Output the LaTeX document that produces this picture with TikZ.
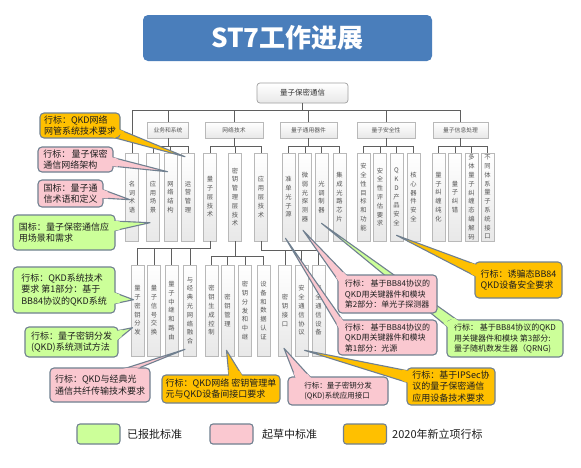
\documentclass[tikz,border=0pt]{standalone}
\usepackage{fontspec}
\setmainfont{Noto Sans CJK SC}
\usetikzlibrary{calc}
\definecolor{ttlblue}{RGB}{74,126,187}
\definecolor{cgreen}{RGB}{204,255,153}
\definecolor{cpink}{RGB}{250,200,208}
\definecolor{corange}{RGB}{255,192,0}
\definecolor{cborder}{RGB}{112,128,144}
\definecolor{vborder}{RGB}{185,185,185}
\definecolor{rborder}{RGB}{160,160,160}
\definecolor{vfill}{RGB}{232,232,232}
\definecolor{vtext}{RGB}{85,85,85}
\definecolor{tline}{RGB}{95,95,95}
\definecolor{ctext}{RGB}{30,30,30}

\def\vsEnd{}
\def\vsloop#1{\ifx#1\vsEnd\else\hbox to 7pt{\hss#1\hss}\expandafter\vsloop\fi}
\newcommand\vstack[1]{\vbox{\baselineskip=8.8pt\lineskiplimit=-20pt\lineskip=0pt\vsloop#1\vsEnd}}

\tikzset{
 vnode/.style={draw=vborder, line width=0.6pt, top color=white, bottom color=vfill, minimum width=13pt, inner sep=0pt, font=\fontsize{6.3}{8}\selectfont, text=vtext},
 catnode/.style={draw=vborder, line width=0.6pt, top color=white, bottom color=vfill, minimum height=16pt, inner sep=0pt, font=\fontsize{5.8}{7}\selectfont, text=vtext},
 rootnode/.style={draw=rborder, line width=0.7pt, rounded corners=3pt, top color=white, bottom color=vfill, minimum width=91pt, minimum height=20pt, inner sep=0pt, font=\fontsize{7.5}{9}\selectfont, text={rgb,255:red,50;green,50;blue,50}},
 tl/.style={draw=tline, line width=0.8pt},
 callbox/.style={rounded corners=4pt, draw=cborder, line width=1.1pt, inner sep=0pt, align=left, font=\fontsize{9}{11.5}\selectfont, text=ctext},
 smallcall/.style={font=\fontsize{8}{10.5}\selectfont},
 legbox/.style={rounded corners=3pt, draw=cborder, line width=1.1pt, minimum width=43pt, minimum height=20pt},
 legtext/.style={anchor=west, font=\fontsize{11}{13}\selectfont, text=ctext, inner sep=0pt},
}
\newcommand\rowA[3]{\node[vnode,minimum height=88pt] (#1) at (#2,197) {\vstack{#3}};}
\newcommand\rowB[3]{\node[vnode,minimum height=91pt] (#1) at (#2,310.5) {\vstack{#3}};}
\newcommand\tailback[4]{\filldraw[fill=#1,draw=cborder,line width=1.1pt,line join=round] (#2) -- (#4) -- (#3) -- cycle;}
\newcommand\tailfront[4]{\fill[#1] (#2) -- ($(#2)!7pt!(#4)$) -- ($(#3)!7pt!(#4)$) -- (#3) -- cycle;}

\begin{document}
\begin{tikzpicture}[x=1pt,y=-1pt]
\fill[white] (0,0) rectangle (581,467);
\useasboundingbox (0,0) rectangle (581,467);

% title
\node[fill=ttlblue, rounded corners=5pt, minimum width=289pt, minimum height=46pt, inner sep=0pt, text=white, font=\bfseries\fontsize{26}{30}\selectfont] (title) at (287.5,38) {ST7工作进展};

% tree
\node[rootnode] (root) at (302.5,93) {量子保密通信};
\node[catnode, minimum width=41pt] (k1) at (168,130) {业务和系统};
\node[catnode, minimum width=58pt] (k2) at (234,130) {网络技术};
\node[catnode, minimum width=57pt] (k3) at (308.5,130) {量子通用器件};
\node[catnode, minimum width=58pt] (k4) at (386,130) {量子安全性};
\node[catnode, minimum width=55pt] (k5) at (460.5,130) {量子信息处理};

\rowA{n11}{132}{名词术语}
\rowA{n12}{153}{应用场景}
\rowA{n13}{170.5}{网络结构}
\rowA{n14}{188}{运营管理}
\rowA{n21}{210}{量子层技术}
\rowA{n22}{235}{密钥管理层技术}
\rowA{n23}{261}{应用层技术}
\rowA{n31}{288.5}{准单光子源}
\rowA{n32}{305}{微弱光探测器}
\rowA{n33}{321.5}{光调制器}
\rowA{n34}{339.5}{集成光路芯片}
\rowA{n41}{363.5}{安全性目标和功能}
\rowA{n42}{380}{安全性评估要求}
\rowA{n43}{396.5}{QKD产品安全}
\rowA{n44}{413.5}{核心器件安全}
\rowA{n51}{438.5}{量子纠缠纯化}
\rowA{n52}{455}{量子纠错}
\rowA{n53}{471.5}{多体量子纠缠态编解码}
\rowA{n54}{487.5}{不同体系量子系统接口}

\rowB{m1}{137.5}{量子密钥分发}
\rowB{m2}{154}{量子信号交换}
\rowB{m3}{171.5}{量子中继和路由}
\rowB{m4}{190}{与经典光网络融合}
\rowB{m5}{211.5}{密钥生成控制}
\rowB{m6}{227.5}{密钥管理}
\rowB{m7}{245}{密钥分发和中继}
\rowB{m8}{263.5}{设备和数据认证}
\rowB{m9}{285}{密钥接口}
\rowB{m10}{301.5}{安全通信协议}
\rowB{m11}{318.5}{安全通信设备}

\coordinate (busA) at (0,110);
\coordinate (busB) at (0,146);
\draw[tl] (root.south) -- (root.south |- busA);
\draw[tl] (n11.north) -- (n11.north |- busA) -| (k5.north);
\foreach \k in {k1,k2,k3,k4} \draw[tl] (\k.north) -- (\k.north |- busA);
\foreach \k in {k1,k2,k3,k4,k5} \draw[tl] (\k.south) -- (\k.south |- busB);
\draw[tl] (n12.north) -- (n12.north |- busB) -| (n14.north);
\draw[tl] (n13.north) -- (n13.north |- busB);
\draw[tl] (n21.north) -- (n21.north |- busB) -| (n23.north);
\draw[tl] (n22.north) -- (n22.north |- busB);
\draw[tl] (n31.north) -- (n31.north |- busB) -| (n34.north);
\foreach \n in {n32,n33} \draw[tl] (\n.north) -- (\n.north |- busB);
\draw[tl] (n41.north) -- (n41.north |- busB) -| (n44.north);
\foreach \n in {n42,n43} \draw[tl] (\n.north) -- (\n.north |- busB);
\draw[tl] (n51.north) -- (n51.north |- busB) -| (n54.north);
\foreach \n in {n52,n53} \draw[tl] (\n.north) -- (\n.north |- busB);

\coordinate (busC) at (0,248);
\coordinate (busD) at (0,256);
\coordinate (busE) at (0,250);
\draw[tl] (n21.south) -- (n21.south |- busC) -| (m1.north);
\foreach \m in {m2,m3,m4} \draw[tl] (\m.north) -- (\m.north |- busC);
\draw[tl] (n22.south) -- (n22.south |- busD);
\draw[tl] (m5.north) -- (m5.north |- busD) -| (m8.north);
\foreach \m in {m6,m7} \draw[tl] (\m.north) -- (\m.north |- busD);
\draw[tl] (n23.south) -- (n23.south |- busE) -| (m11.north);
\foreach \m in {m9,m10} \draw[tl] (\m.north) -- (\m.north |- busE);

% tail tips
\coordinate (p1) at ($(n14.north)+(-3,4)$);
\coordinate (p2) at ($(n13.north)+(-3,19)$);
\coordinate (p3) at ($(n11.north)+(-2,47)$);
\coordinate (p4) at ($(n12.north)+(-3,70)$);
\coordinate (p5) at ($(m1.north)+(-4,35)$);
\coordinate (p6) at ($(m1.north)+(-5,63)$);
\coordinate (p7) at ($(m4.south)+(-5,-7)$);
\coordinate (p8) at ($(m6.south)+(-1,-6)$);
\coordinate (p9) at ($(m9.south)+(-1,-8)$);
\coordinate (p10) at ($(m10.south)+(3,-6)$);
\coordinate (p11) at ($(n32.south)+(-2,-11)$);
\coordinate (p12) at ($(n31.south)+(-3,-3)$);
\coordinate (p13) at ($(n33.south)+(0,-18)$);
\coordinate (p14) at ($(n43.south)+(0,-6)$);

% tails (back)
\tailback{corange}{118,129}{108,136}{p1}
\tailback{cpink}{111,157}{111,166}{p2}
\tailback{cpink}{101,189}{101,198}{p3}
\tailback{cgreen}{113,221}{113,231}{p4}
\tailback{cgreen}{113,292}{113,304}{p5}
\tailback{cgreen}{116,331}{116,341}{p6}
\tailback{cpink}{120,370}{134,370}{p7}
\tailback{corange}{229,377}{243,377}{p8}
\tailback{cpink}{296,379}{312,379}{p9}
\tailback{corange}{409,371}{409,383}{p10}
\tailback{cpink}{340,283}{348,277}{p11}
\tailback{cpink}{340,330}{344,322}{p12}
\tailback{cgreen}{449,328}{460,322}{p13}
\tailback{corange}{477,265}{477,277}{p14}

% callout boxes
\node[callbox, fill=corange, minimum width=80pt, minimum height=25pt] (c1) at (80,125.5) {行标：QKD网络\\网管系统技术要求};
\node[callbox, fill=cpink, minimum width=75pt, minimum height=25pt] (c2) at (75.5,159.5) {行标：\,量子保密\\通信网络架构};
\node[callbox, fill=cpink, minimum width=65pt, minimum height=27pt] (c3) at (70.5,193.5) {国标：量子通\\信术语和定义};
\node[callbox, fill=cgreen, minimum width=102pt, minimum height=35pt] (c4) at (64,232.5) {国标：量子保密通信应\\用场景和需求};
\node[callbox, fill=cgreen, minimum width=102pt, minimum height=46pt] (c5) at (64,290) {行标：QKD系统技术\\要求 第1部分：基于\\BB84协议的QKD系统};
\node[callbox, fill=cgreen, minimum width=93pt, minimum height=30pt] (c6) at (71.5,342) {行标：量子密钥分发\\(QKD)系统测试方法};
\node[callbox, fill=cpink, minimum width=100pt, minimum height=34pt] (c7) at (100,385) {行标：QKD与经典光\\通信共纤传输技术要求};
\node[callbox, fill=corange, minimum width=118pt, minimum height=28pt] (c8) at (221,389) {行标：QKD网络 密钥管理单\\元与QKD设备间接口要求};
\node[callbox, fill=cpink, minimum width=100pt, minimum height=28pt, font=\fontsize{7.5}{10}\selectfont] (c9) at (338,391) {行标：量子密钥分发\\(QKD)系统应用接口};
\node[callbox, fill=corange, minimum width=88pt, minimum height=37pt] (c10) at (451,386.5) {行标：基于IPSec协\\议的量子保密通信\\应用设备技术要求};
\node[callbox, smallcall, fill=cpink, minimum width=99pt, minimum height=38pt] (c11) at (387.5,294) {行标：\ 基于BB84协议的\\QKD用关键器件和模块\\第2部分：单光子探测器};
\node[callbox, smallcall, fill=cpink, minimum width=99pt, minimum height=35pt] (c12) at (387.5,337.5) {行标：\ 基于BB84协议的\\QKD用关键器件和模块\\第1部分：光源};
\node[callbox, smallcall, fill=cgreen, minimum width=116pt, minimum height=37pt] (c13) at (505,338.5) {行标：\ 基于BB84协议的QKD\\用关键器件和模块 第3部分:\\量子随机数发生器（QRNG)};
\node[callbox, fill=corange, minimum width=87pt, minimum height=36pt] (c14) at (518.5,280) {行标：诱骗态BB84\\QKD设备安全要求};

% tails (front, hide border across base)
\tailfront{corange}{118,129}{108,136}{p1}
\tailfront{cpink}{111,157}{111,166}{p2}
\tailfront{cpink}{101,189}{101,198}{p3}
\tailfront{cgreen}{113,221}{113,231}{p4}
\tailfront{cgreen}{113,292}{113,304}{p5}
\tailfront{cgreen}{116,331}{116,341}{p6}
\tailfront{cpink}{120,370}{134,370}{p7}
\tailfront{corange}{229,377}{243,377}{p8}
\tailfront{cpink}{296,379}{312,379}{p9}
\tailfront{corange}{409,371}{409,383}{p10}
\tailfront{cpink}{340,283}{348,277}{p11}
\tailfront{cpink}{340,330}{344,322}{p12}
\tailfront{cgreen}{449,328}{460,322}{p13}
\tailfront{corange}{477,265}{477,277}{p14}

% legend
\node[legbox, fill=cgreen] (g1) at (98.5,434) {};
\node[legtext] (g1t) at (127,434) {已报批标准};
\node[legbox, fill=cpink] (g2) at (231.5,434) {};
\node[legtext] (g2t) at (262,434) {起草中标准};
\node[legbox, fill=corange] (g3) at (365,434) {};
\node[legtext] (g3t) at (392,434) {2020年新立项行标};
\end{tikzpicture}
\end{document}
